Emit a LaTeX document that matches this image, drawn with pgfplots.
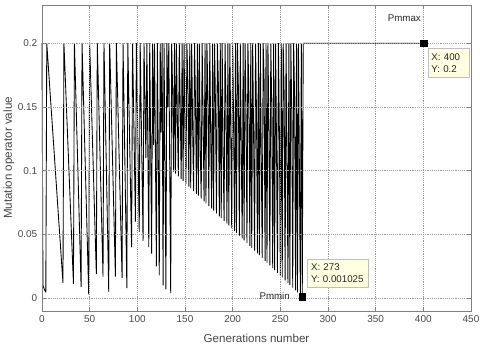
\documentclass[border=0pt]{standalone}
\usepackage{fontspec}
\setmainfont{Liberation Sans}
\usepackage{pgfplots}
\pgfplotsset{compat=1.18}

\definecolor{tipfill}{RGB}{255,255,225}
\definecolor{axgray}{RGB}{128,128,128}
\definecolor{lblgray}{RGB}{70,70,70}

\begin{document}
\begin{tikzpicture}
\begin{axis}[
    scale only axis,
    width=321.75pt, height=229.5pt,
    xmin=0, xmax=450,
    ymin=-0.01, ymax=0.23,
    xtick={0,50,...,450},
    xticklabels={0,50,100,150,200,250,300,350,400,450},
    ytick={0,0.05,0.1,0.15,0.2},
    yticklabels={0,0.05,0.1,0.15,0.2},
    /pgf/number format/assume math mode=true,
    tick align=inside,
    major tick length=3pt,
    axis line style={axgray, line width=0.5pt},
    every tick/.style={axgray, line width=0.5pt},
    grid=major,
    major grid style={densely dotted, black!40, line width=0.4pt},
    axis on top,
    tick label style={font=\fontsize{7.5}{8}\selectfont, text=lblgray},
    xlabel={Generations number},
    ylabel={Mutation operator value},
    label style={font=\fontsize{8.7}{10}\selectfont, text=lblgray},
    xlabel style={at={(axis description cs:0.5,-0.088)}, anchor=center},
    ylabel style={at={(axis description cs:-0.077,0.5)}, anchor=center},
    clip=false,
]
\addplot[black, line width=0.65pt] coordinates {
(0,0.2) (1,0.010) (2,0.008) (3,0.006) (4,0.005)
(5,0.2) (22,0.012)
(23,0.2) (33,0.011)
(34,0.2) (41,0.009)
(42,0.2) (49,0.003)
(50,0.2) (57,0.019)
(58,0.2) (64,0.017)
(65,0.2) (70,0.005)
(71,0.2) (77,0.017)
(78,0.2) (84,0.016)
(85,0.2) (89,0.008)
(90,0.2) (94,0.040)
(95,0.2) (98,0.060)
(99,0.2) (102,0.052)
(103,0.2) (106,0.045)
(107,0.2) (109,0.110)
(110,0.2) (112,0.040)
(113,0.2) (115,0.035)
(116,0.2) (117,0.120)
(118,0.2) (120,0.025)
(121,0.2) (123,0.018)
(124,0.2) (125,0.130)
(126,0.2) (127,0.010)
(128,0.2) (130,0.007)
(131,0.2) (132,0.150)
(133,0.2) (135,0.004)
(136,0.2) (137,0.165) (138,0.0993) (139,0.2) (140,0.0978) (141,0.2) (142,0.140) (143,0.0956)
(144,0.2) (145,0.150) (146,0.0935) (147,0.2) (148,0.0920) (149,0.2) (150,0.128) (151,0.0898)
(152,0.2) (153,0.170) (154,0.0876) (155,0.2) (156,0.0862) (157,0.2) (158,0.135) (159,0.0840)
(160,0.2) (161,0.155) (162,0.0818) (163,0.2) (164,0.0804) (165,0.2) (166,0.118) (167,0.0782)
(168,0.2) (169,0.140) (170,0.0760) (171,0.2) (172,0.0745) (173,0.2) (174,0.160) (175,0.0723)
(176,0.2) (177,0.125) (178,0.0702) (179,0.2) (180,0.0687) (181,0.2) (182,0.150) (183,0.0665)
(184,0.2) (185,0.168) (186,0.0643) (187,0.2) (188,0.0629) (189,0.2) (190,0.112) (191,0.0607)
(192,0.2) (193,0.150) (194,0.0585) (195,0.2) (196,0.0571) (197,0.2) (198,0.130) (199,0.0549)
(200,0.2) (201,0.135) (202,0.0527) (203,0.2) (204,0.0512) (205,0.2) (206,0.165) (207,0.0491)
(208,0.2) (209,0.118) (210,0.0469) (211,0.2) (212,0.0454) (213,0.2) (214,0.150) (215,0.0432)
(216,0.2) (217,0.160) (218,0.0411) (219,0.2) (220,0.0396) (221,0.2) (222,0.125) (223,0.0374)
(224,0.2) (225,0.145) (226,0.0352) (227,0.2) (228,0.0338) (229,0.2) (230,0.110) (231,0.0316)
(232,0.2) (233,0.170) (234,0.0294) (235,0.2) (236,0.0280) (237,0.2) (238,0.135) (239,0.0258)
(240,0.2) (241,0.150) (242,0.0236) (243,0.2) (244,0.0221) (245,0.2) (246,0.120) (247,0.0199)
(248,0.2) (249,0.130) (250,0.0178) (251,0.2) (252,0.0163) (253,0.2) (254,0.160) (255,0.0141)
(256,0.2) (257,0.112) (258,0.0119) (259,0.2) (260,0.0105) (261,0.2) (262,0.145) (263,0.0083)
(264,0.2) (265,0.155) (266,0.0061) (267,0.2) (268,0.0047) (269,0.2) (270,0.100) (271,0.0025)
(272,0.2) (273,0.001025) (274,0.2) (400,0.2)
};
% data tip markers
\addplot[only marks, mark=square*, mark size=2.6pt, black] coordinates {(273,0.001025) (400,0.2)};
\coordinate (tipmax) at (axis cs:404.7,0.196);
\coordinate (tipmin) at (axis cs:277.7,0.0305);
\coordinate (lblmax) at (axis cs:397.6,0.2195);
\coordinate (lblmin) at (axis cs:260.2,0.0016);
\end{axis}
% labels and data tips over the grid
\begin{scope}[every node/.style={font=\fontsize{7.3}{9.3}\selectfont, text=black!85}]
\node[anchor=east, inner sep=0pt] at (lblmax) {Pmmax};
\node[anchor=east, inner sep=0pt] at (lblmin) {Pmmin};
\node[anchor=north west, fill=tipfill, draw=black!25, line width=0.4pt,
      inner xsep=2.5pt, inner ysep=3.5pt, text width=26pt, align=left] at (tipmax) {X: 400\\Y: 0.2};
\node[anchor=north west, fill=tipfill, draw=black!25, line width=0.4pt,
      inner xsep=3pt, inner ysep=3pt, text width=39.8pt, align=left] at (tipmin) {X: 273\\Y: 0.001025};
\end{scope}
\path (current axis.south west) ++(-31.5pt,-27pt) coordinate (bbl);
\path (current axis.north east) ++(6.75pt,3.75pt) coordinate (btr);
\pgfresetboundingbox
\path (bbl) rectangle (btr);
\end{tikzpicture}
\end{document}
